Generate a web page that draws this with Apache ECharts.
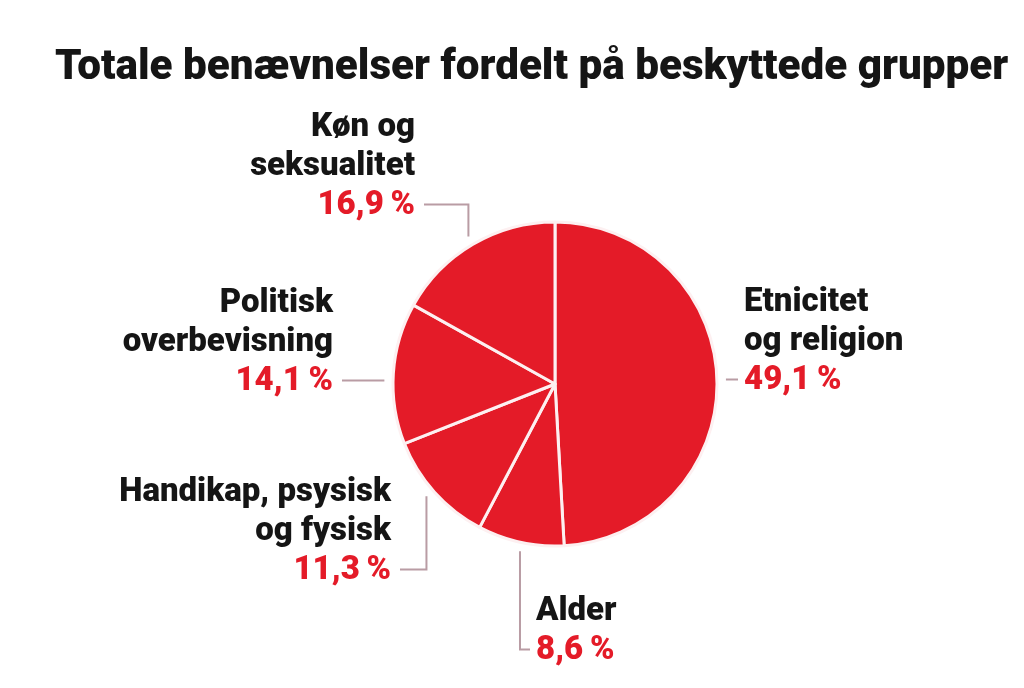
<!DOCTYPE html>
<html>
<head>
<meta charset="utf-8">
<script src="https://cdn.jsdelivr.net/npm/echarts@6/dist/echarts.min.js"></script>
<style>
  html, body { margin: 0; padding: 0; background: #fff; }
  #chart { width: 1024px; height: 688px; }
</style>
</head>
<body>
<div id="chart"></div>
<script>
// data, clockwise from 12 o'clock
var groups = ['Etnicitet\nog religion', 'Alder', 'Handikap, psysisk\nog fysisk', 'Politisk\noverbevisning', 'Køn og\nseksualitet'];
var shares = [49.1, 8.6, 11.3, 14.1, 16.9];
var chartTitle = 'Totale benævnelser fordelt på beskyttede grupper';

// label placement: anchor = bottom corner of text block
var labelAnchors = [
    { x: 744, y: 400, align: 'left' },
    { x: 536, y: 670, align: 'left' },
    { x: 391, y: 590, align: 'right' },
    { x: 333, y: 401, align: 'right' },
    { x: 415, y: 225, align: 'right' }
];
var lineH = 39;
var fontFam = 'Roboto, "Liberation Sans", sans-serif';

var fmtPct = function (v) {
    return String(v).replace('.', ',') + '\u2009%';
}

var chart = echarts.init(document.getElementById('chart'));

var option = {
    backgroundColor: '#fff',
    animation: false,
    title: {
        text: chartTitle,
        left: 50,
        top: 42,
        textStyle: {
            fontFamily: fontFam,
            fontWeight: 900,
            fontSize: 42.2,
            color: '#151515'
        }
    },
    series: [{
        type: 'pie',
        center: [555, 384],
        radius: 162,
        startAngle: 90,
        clockwise: true,
        data: groups.map(function (g, i) {
            return { name: g, value: shares[i] };
        }),
        itemStyle: {
            color: '#e41b28',
            borderColor: '#fdf0f1',
            borderWidth: 3
        },
        label: {
            show: true,
            formatter: function (p) {
                var parts = p.name.split('\n').map(function (s) { return '{n|' + s + '}'; });
                parts.push('{p|' + fmtPct(p.value) + '}');
                return parts.join('\n');
            },
            rich: {
                n: { fontFamily: fontFam, fontWeight: 900, fontSize: 33, color: '#151515', lineHeight: lineH },
                p: { fontFamily: fontFam, fontWeight: 900, fontSize: 33, color: '#e41b28', lineHeight: lineH }
            }
        },
        labelLine: {
            show: true,
            length: 20,
            length2: 10,
            lineStyle: { color: '#b99ca4', width: 2 }
        },
        labelLayout: function (params) {
            var a = labelAnchors[params.dataIndex];
            var pts = params.labelLinePoints;
            var p0 = pts[0], p1 = pts[1];
            var dx = p1[0] - p0[0], dy = p1[1] - p0[1];
            var d = Math.sqrt(dx * dx + dy * dy) || 1;
            var sx = p0[0] + dx / d * 9, sy = p0[1] + dy / d * 9;
            var ly = a.y - lineH / 2 - 1;
            var ex = a.align === 'left' ? a.x - 6 : a.x + 9;
            var linePts;
            if (Math.abs(sy - ly) < 15) {
                linePts = [[sx, ly], [sx, ly], [ex, ly]];
            } else {
                linePts = [[sx, sy], [sx, ly], [ex, ly]];
            }
            return {
                x: a.x,
                y: a.y,
                align: a.align,
                verticalAlign: 'bottom',
                labelLinePoints: linePts
            };
        }
    }]
};

chart.setOption(option);
</script>
</body>
</html>
